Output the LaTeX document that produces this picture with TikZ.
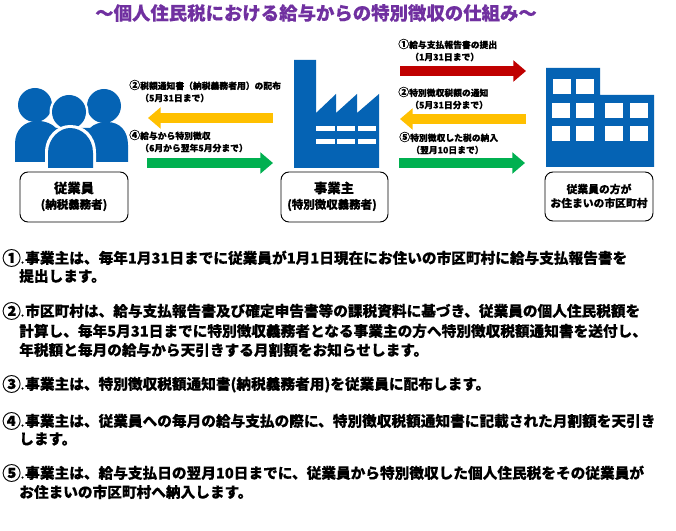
\documentclass[tikz,border=0pt]{standalone}
\usepackage{fontspec}
\setmainfont{Noto Sans CJK JP}[BoldFeatures={FakeBold=0.25}]
\usetikzlibrary{arrows.meta}
\definecolor{iconblue}{HTML}{0563B4}
\definecolor{arrred}{HTML}{C00000}
\definecolor{arryel}{HTML}{FFC000}
\definecolor{arrgrn}{HTML}{00B050}
\definecolor{titlepur}{HTML}{7030A0}
\newcommand{\bignum}[1]{\makebox[17.25pt][l]{\raisebox{-1.2pt}{\fontsize{14pt}{12pt}\selectfont #1}\hspace{0pt}\fontsize{7pt}{12pt}\selectfont .}}
\newcommand{\smallnum}[1]{{\fontsize{8.2pt}{8pt}\selectfont #1}}
\tikzset{
  x=0.75pt,y=-0.75pt,
  icon/.style={fill=iconblue,draw=none},
  win/.style={fill=white,draw=none},
  party/.style={draw=black,line width=0.7pt,rounded corners=6pt,fill=white},
  partytext/.style={inner sep=0pt,align=center},
  small/.style={inner sep=0pt,anchor=west,font=\bfseries\fontsize{6.6pt}{8pt}\selectfont},
  body/.style={inner sep=0pt,anchor=west,font=\bfseries\fontsize{11pt}{12pt}\selectfont},
  flow/.style={line width=8.2pt,-{Triangle[length=9.5pt,width=15.5pt]}},
}
\begin{document}
\begin{tikzpicture}
\useasboundingbox (0,0) rectangle (676,531);
\fill[white] (0,0) rectangle (676,531);
\node[inner sep=0pt,text=titlepur,font=\bfseries\fontsize{13.8pt}{16pt}\selectfont] (title) at (316,13) {～個人住民税における給与からの特別徴収の仕組み～};

% people
\fill[icon] (15,162) -- (15,144) .. controls (15,130) and (24,121) .. (38,121) .. controls (46,121) and (52,124) .. (56,128) -- (90,128) .. controls (94,124) and (100,122) .. (107,122) .. controls (120,122) and (128,131) .. (128,145) -- (128,162) -- cycle;
\fill[icon] (35,105) circle (17);
\fill[icon] (104,106) circle (17);
\fill[white] (69,112) circle (19.5);
\fill[icon] (69,112) circle (17);
\fill[white] (45,170) -- (45,153) .. controls (45,135) and (58,125) .. (70,125) .. controls (84,125) and (96,135) .. (96,153) -- (96,170) -- cycle;
\fill[icon] (48,168) -- (48,153) .. controls (48,138) and (60,128) .. (70,128) .. controls (82,128) and (93,138) .. (93,153) -- (93,168) -- cycle;

% factory
\fill[icon] (294,168) -- (294,60) -- (316,60) -- (316,113) -- (336,94) -- (336,113) -- (357,94) -- (357,113) -- (379,94) -- (379,168) -- cycle;
\foreach \yy in {126,139} \foreach \xx/\ww in {316/19,337/18,358/18}
  \fill[win] (\xx,\yy) rectangle ++(\ww,5.5);

% city building
\fill[icon] (546,167) -- (546,68) -- (600,68) -- (600,95) -- (654,95) -- (654,167) -- cycle;
\foreach \xx in {553,576} \fill[win] (\xx,79) rectangle ++(18,15);
\foreach \yy in {103,126} \foreach \xx in {552,576,605,630} \fill[win] (\xx,\yy) rectangle ++(18,15);

% party boxes
\draw[party] (20,172) rectangle (128,222);
\draw[party] (281,172) rectangle (388,222);
\draw[party] (545,172) rectangle (653,221);
\node[partytext,font=\bfseries\fontsize{10pt}{12pt}\selectfont] (emp1) at (74,188) {従業員};
\node[partytext,font=\bfseries\fontsize{8.6pt}{12pt}\selectfont] (emp2) at (74,205) {(納税義務者)};
\node[partytext,font=\bfseries\fontsize{10pt}{12pt}\selectfont] (boss1) at (334,188) {事業主};
\node[partytext,font=\bfseries\fontsize{8.6pt}{12pt}\selectfont] (boss2) at (332,205) {(特別徴収義務者)};
\node[partytext,font=\bfseries\fontsize{8.1pt}{12pt}\selectfont] (city1) at (599,189) {従業員の方が};
\node[partytext,font=\bfseries\fontsize{8.1pt}{12pt}\selectfont] (city2) at (599,203) {お住まいの市区町村};

% arrows
\coordinate (a1s) at (400,71);  \coordinate (a1e) at (526,71);
\coordinate (a2s) at (526,119); \coordinate (a2e) at (400,119);
\coordinate (a3s) at (399,163); \coordinate (a3e) at (525,163);
\coordinate (a4s) at (273,118); \coordinate (a4e) at (148,118);
\coordinate (a5s) at (147,163); \coordinate (a5e) at (273,163);
\draw[flow,arrred] (a1s) -- (a1e);
\draw[flow,arryel] (a2s) -- (a2e);
\draw[flow,arrgrn] (a3s) -- (a3e);
\draw[flow,arryel] (a4s) -- (a4e);
\draw[flow,arrgrn] (a5s) -- (a5e);

% arrow labels
\node[small] (l1) at (129,85) {\smallnum{②}税額通知書（納税義務者用）の配布};
\node[small] (l2) at (140,98) {（5月31日まで）};
\node[small] (l3) at (129,135) {\smallnum{④}給与から特別徴収};
\node[small] (l4) at (140,148) {（6月から翌年5月分まで）};
\node[small] (r1) at (398,44) {\smallnum{①}給与支払報告書の提出};
\node[small] (r2) at (410,57) {（1月31日まで）};
\node[small] (r3) at (398,92) {\smallnum{②}特別徴収税額の通知};
\node[small] (r4) at (410,105) {（5月31日分まで）};
\node[small] (r5) at (399,137) {\smallnum{⑤}特別徴収した税の納入};
\node[small] (r6) at (411,150) {（翌月10日まで）};

% explanations
\node[body] (t1) at (2,258) {\bignum{①}事業主は、毎年1月31日までに従業員が1月1日現在にお住いの市区町村に給与支払報告書を};
\node[body] (t1b) at (19,276) {提出します。};
\node[body] (t2) at (2,311) {\bignum{②}市区町村は、給与支払報告書及び確定申告書等の課税資料に基づき、従業員の個人住民税額を};
\node[body] (t2b) at (19,331) {計算し、毎年5月31日までに特別徴収義務者となる事業主の方へ特別徴収税額通知書を送付し、};
\node[body] (t2c) at (19,350) {年税額と毎月の給与から天引きする月割額をお知らせします。};
\node[body] (t3) at (2,384) {\bignum{③}事業主は、特別徴収税額通知書(納税義務者用)を従業員に配布します。};
\node[body] (t4) at (2,421) {\bignum{④}事業主は、従業員への毎月の給与支払の際に、特別徴収税額通知書に記載された月割額を天引き};
\node[body] (t4b) at (19,439) {します。};
\node[body] (t5) at (2,473) {\bignum{⑤}事業主は、給与支払日の翌月10日までに、従業員から特別徴収した個人住民税をその従業員が};
\node[body] (t5b) at (19,492) {お住まいの市区町村へ納入します。};
\end{tikzpicture}
\end{document}
